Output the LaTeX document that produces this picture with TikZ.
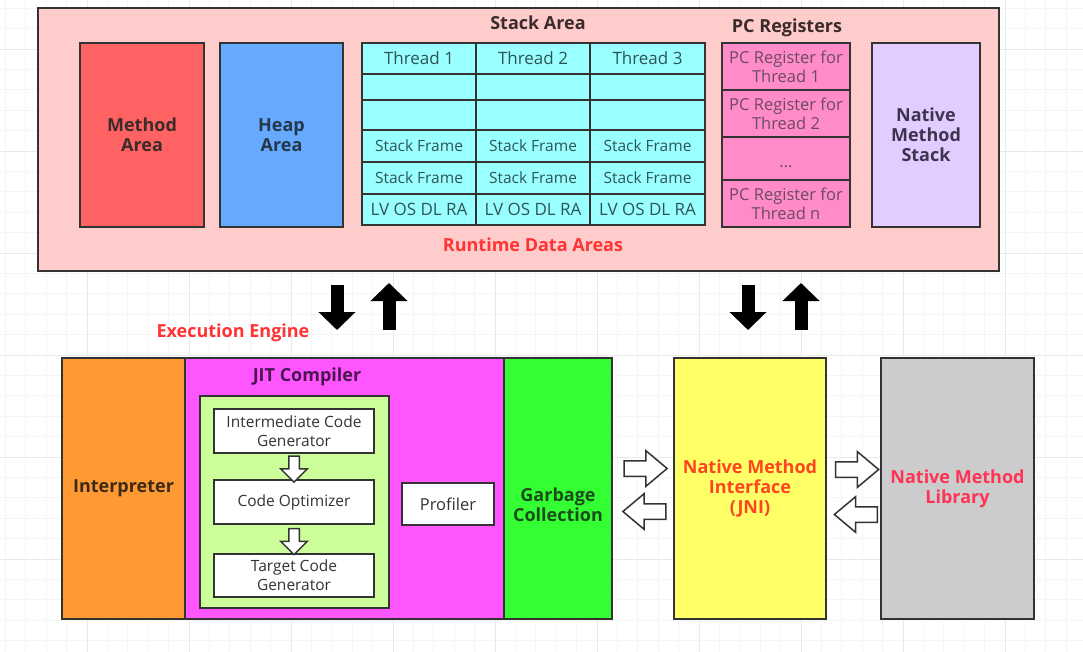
\documentclass[tikz,border=0pt]{standalone}
\usepackage{fontspec}
\setmainfont{Open Sans}
\usetikzlibrary{arrows.meta,shapes.arrows,calc}

\definecolor{rdabg}{HTML}{FFCCCC}
\definecolor{frame}{HTML}{333333}
\definecolor{methodred}{HTML}{FF6262}
\definecolor{heapblue}{HTML}{66AAFF}
\definecolor{stackcyan}{HTML}{99FFFF}
\definecolor{pcpink}{HTML}{FF8CC8}
\definecolor{nmslilac}{HTML}{E3CCFF}
\definecolor{titlered}{HTML}{FF3333}
\definecolor{interporange}{HTML}{FF9933}
\definecolor{jitmagenta}{HTML}{FF55FF}
\definecolor{jitgreen}{HTML}{CCFF99}
\definecolor{gcgreen}{HTML}{33FF33}
\definecolor{jniyellow}{HTML}{FFFF66}
\definecolor{libgray}{HTML}{CCCCCC}
\definecolor{jnired}{HTML}{FF4422}
\definecolor{libred}{HTML}{FF3355}
\definecolor{darktxt}{HTML}{3B2B2B}
\definecolor{heaptxt}{HTML}{25374A}
\definecolor{nmstxt}{HTML}{3E3450}
\definecolor{interptxt}{HTML}{3D2A14}
\definecolor{jittxt}{HTML}{4B1650}
\definecolor{gctxt}{HTML}{1B4D1B}
\definecolor{celltxt}{HTML}{2E5555}
\definecolor{pctxt}{HTML}{6E4A60}
\definecolor{gridminor}{HTML}{F5F5F5}
\definecolor{gridmajor}{HTML}{E9E9E9}

\tikzset{
  box/.style={draw=frame, line width=2pt, inner sep=0pt, align=center, anchor=north west},
  bold/.style={font=\fontsize{18}{20}\selectfont\bfseries},
  plain/.style={font=\fontsize{15.5}{19}\selectfont},
  large/.style={font=\fontsize{17}{20}\selectfont},
  cell/.style={box, plain, fill=stackcyan, text=celltxt},
  pccell/.style={box, font=\fontsize{16.5}{19}\selectfont, fill=pcpink, text=pctxt, minimum width=128pt},
  whitebox/.style={box, plain, fill=white, text=frame},
  fatarrow/.style={line width=13pt, -{Triangle[width=36pt,length=18pt]}},
  hollow/.style={single arrow, draw=frame, line width=1.5pt, fill=white, inner sep=7pt,
    minimum height=43pt, single arrow head extend=10pt, single arrow tip angle=80},
  smallhollow/.style={single arrow, draw=frame, line width=1.5pt, fill=white, inner sep=4.5pt,
    minimum height=26pt, single arrow head extend=8pt, shape border rotate=270}
}

\begin{document}
\begin{tikzpicture}[x=1pt, y=-1pt]
  \fill[white] (0,0) rectangle (1083,652);
  \useasboundingbox (0,0) rectangle (1083,652);
  % canvas grid
  \foreach \x in {-15,5.4,...,1083} \draw[gridminor, line width=0.8pt] (\x,0) -- (\x,652);
  \foreach \y in {8.2,28.6,...,652} \draw[gridminor, line width=0.8pt] (0,\y) -- (1083,\y);
  \foreach \x in {87,189,...,1083} \draw[gridmajor, line width=0.8pt] (\x,0) -- (\x,652);
  \foreach \y in {49,151,...,652} \draw[gridmajor, line width=0.8pt] (0,\y) -- (1083,\y);

  % runtime data areas
  \node[box, fill=rdabg, minimum width=961pt, minimum height=263pt] (rda) at (37,7) {};
  \node[box, bold, fill=methodred, text=darktxt, minimum width=124pt, minimum height=184pt] (method) at (79,42) {Method\\Area};
  \node[box, bold, fill=heapblue, text=heaptxt, minimum width=123pt, minimum height=184pt] (heap) at (219,42) {Heap\\Area};

  \node[bold, text=darktxt] (stacktitle) at (538,23) {Stack Area};
  \foreach \c/\x/\w in {1/361/114, 2/475/114, 3/589/115} {
    \node[cell, large, minimum width=\w pt, minimum height=31pt] (s\c-1) at (\x,42) {Thread \c};
    \node[cell, minimum width=\w pt, minimum height=26pt] (s\c-2) at (\x,73) {};
    \node[cell, minimum width=\w pt, minimum height=30pt] (s\c-3) at (\x,99) {};
    \node[cell, minimum width=\w pt, minimum height=32pt] (s\c-4) at (\x,129) {Stack Frame};
    \node[cell, minimum width=\w pt, minimum height=32pt] (s\c-5) at (\x,161) {Stack Frame};
    \node[cell, large, minimum width=\w pt, minimum height=31pt] (s\c-6) at (\x,193) {LV OS DL RA};
  }

  \node[bold, text=darktxt] (pctitle) at (787,28) {PC Registers};
  \node[pccell, minimum height=47pt] (pc1) at (721,42) {PC Register for\\Thread 1};
  \node[pccell, minimum height=47pt] (pc2) at (721,89) {PC Register for\\Thread 2};
  \node[pccell, minimum height=43pt] (pc3) at (721,136) {\\...};
  \node[pccell, minimum height=47pt] (pc4) at (721,179) {PC Register for\\Thread n};

  \node[box, bold, fill=nmslilac, text=nmstxt, minimum width=108pt, minimum height=184pt] (nms) at (871,42) {Native\\Method\\Stack};
  \node[bold, text=titlered] (rdatitle) at (533,245) {Runtime Data Areas};

  % arrows between the two halves
  \coordinate (d1) at (337,285); \coordinate (d2) at (337,330);
  \coordinate (u1) at (389,330); \coordinate (u2) at (389,283);
  \coordinate (d3) at (748,285); \coordinate (d4) at (748,330);
  \coordinate (u3) at (801,330); \coordinate (u4) at (801,283);
  \draw[fatarrow] (d1) -- (d2);
  \draw[fatarrow] (u1) -- (u2);
  \draw[fatarrow] (d3) -- (d4);
  \draw[fatarrow] (u3) -- (u4);

  % execution engine
  \node[bold, text=titlered] (eetitle) at (233,333) {Execution Engine};
  \node[box, bold, fill=interporange, text=interptxt, minimum width=123pt, minimum height=261pt] (interp) at (61,357) {Interpreter};
  \node[box, fill=jitmagenta, minimum width=319pt, minimum height=261pt] (jit) at (184,357) {};
  \node[bold, text=jittxt] (jittitle) at (307,377) {JIT Compiler};
  \node[box, fill=jitgreen, minimum width=189pt, minimum height=212pt] (jitinner) at (199,395) {};
  \node[whitebox, minimum width=160pt, minimum height=44pt] (icg) at (213,408) {Intermediate Code\\Generator};
  \node[whitebox, minimum width=160pt, minimum height=44pt] (opt) at (213,479) {Code Optimizer};
  \node[whitebox, minimum width=160pt, minimum height=43pt] (tcg) at (213,553) {Target Code\\Generator};
  \node[smallhollow] (a1) at ($(icg.south)!0.5!(opt.north)$) {};
  \node[smallhollow] (a2) at ($(opt.south)!0.5!(tcg.north)$) {};
  \node[whitebox, font=\fontsize{16.5}{19}\selectfont, minimum width=92pt, minimum height=42pt] (prof) at (401,482) {Profiler};
  \node[box, fill=gcgreen, minimum width=108pt, minimum height=261pt] (gc) at (503,357) {};
  \node[bold, text=gctxt, align=center] (gclabel) at ($(gc.center)+(0,16)$) {Garbage\\Collection};

  % native side
  \node[box, bold, fill=jniyellow, text=jnired, minimum width=152pt, minimum height=261pt] (jni) at (673,357) {Native Method\\Interface\\(JNI)};
  \node[box, bold, fill=libgray, text=libred, minimum width=153pt, minimum height=261pt] (lib) at (880,357) {Native Method\\Library};

  \node[hollow] (gc2jni) at ($(gc.east)!0.5!(jni.west)+(-2,-20)$) {};
  \node[hollow, shape border rotate=180] (jni2gc) at ($(gc.east)!0.5!(jni.west)+(6,23)$) {};
  \node[hollow] (jni2lib) at ($(jni.east)!0.5!(lib.west)+(-1,-19)$) {};
  \node[hollow, shape border rotate=180] (lib2jni) at ($(jni.east)!0.5!(lib.west)+(7,26)$) {};
\end{tikzpicture}
\end{document}
